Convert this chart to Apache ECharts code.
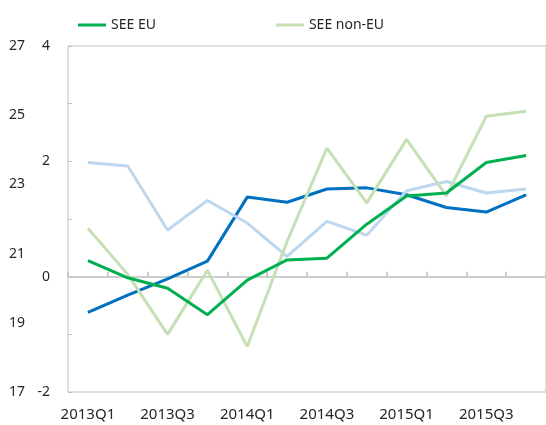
<!DOCTYPE html>
<html>
<head>
<meta charset="utf-8">
<script src="https://cdn.jsdelivr.net/npm/echarts@6/dist/echarts.min.js"></script>
<style>
html,body{margin:0;padding:0;background:#fff;}
#container{width:546px;height:425px;}
</style>
</head>
<body>
<div id="container"></div>
<script>
// quarters on the x axis
var categories = ['2013Q1','2013Q2','2013Q3','2013Q4','2014Q1','2014Q2','2014Q3','2014Q4','2015Q1','2015Q2','2015Q3','2015Q4'];
// series (inner axis, -2..4)
var seeEu = [0.28, -0.02, -0.2, -0.66, -0.06, 0.29, 0.32, 0.91, 1.4, 1.45, 1.98, 2.1];
var seeNonEu = [0.84, 0.04, -1.0, 0.11, -1.21, 0.61, 2.23, 1.28, 2.38, 1.4, 2.78, 2.87];
var darkBlue = [-0.62, -0.32, -0.04, 0.27, 1.38, 1.29, 1.52, 1.54, 1.42, 1.2, 1.12, 1.42];
var lightBlue = [1.98, 1.92, 0.81, 1.32, 0.93, 0.35, 0.96, 0.72, 1.49, 1.65, 1.45, 1.52];
var legendNames = ['SEE EU', 'SEE non-EU'];

var font = 'Noto Sans';
var txt = '#262626';
var gray = '#bfbfbf';

function line(name, data, color) {
	return {
		name: name,
		type: 'line',
		data: data,
		xAxisIndex: 0,
		yAxisIndex: 0,
		symbol: 'none',
		lineStyle: { color: color, width: 3 },
		itemStyle: { color: color }
	};
}

var myChart = echarts.init(document.getElementById('container'));
var option = {
	animation: false,
	legend: {
		data: legendNames,
		left: 73,
		top: 13,
		itemWidth: 28,
		itemHeight: 3,
		itemGap: 120,
		icon: 'rect',
		textStyle: { fontFamily: font, fontSize: 14, color: txt }
	},
	grid: {
		left: 68, top: 46, bottom: 33, right: -2,
		show: true, borderColor: gray, borderWidth: 1
	},
	xAxis: [{
		type: 'category',
		data: categories,
		boundaryGap: true,
		position: 'bottom',
		axisLine: { show: false, onZero: false },
		axisTick: { show: false },
		axisLabel: { interval: 1, margin: 15, fontFamily: font, fontSize: 15, color: txt }
	}, {
		type: 'category',
		data: categories,
		boundaryGap: true,
		position: 'bottom',
		axisLine: { show: true, onZero: true, onZeroAxisIndex: 0, lineStyle: { color: gray, width: 1.5 } },
		axisTick: { show: true, inside: true, length: 5, interval: 0, lineStyle: { color: gray, width: 1.5 } },
		axisLabel: { show: false }
	}],
	yAxis: [{
		type: 'value',
		min: -2, max: 4, interval: 1,
		position: 'left',
		splitLine: { show: false },
		axisLine: { show: false },
		axisTick: { show: true, inside: true, length: 4, lineStyle: { color: gray } },
		axisLabel: {
			margin: 18, fontFamily: font, fontSize: 14, color: txt,
			formatter: function(v) { return v % 2 === 0 ? String(v) : ''; }
		}
	}, {
		type: 'value',
		min: 17, max: 27, interval: 2,
		position: 'left',
		splitLine: { show: false },
		axisLine: { show: false },
		axisTick: { show: false },
		axisLabel: { margin: 43, fontFamily: font, fontSize: 14, color: txt }
	}],
	series: [
		line('Blue dark', darkBlue, '#0070c0'),
		line('Blue light', lightBlue, '#bdd7ee'),
		line('SEE non-EU', seeNonEu, '#c5e0b4'),
		line('SEE EU', seeEu, '#00b050')
	]
};
myChart.setOption(option);
</script>
</body>
</html>
